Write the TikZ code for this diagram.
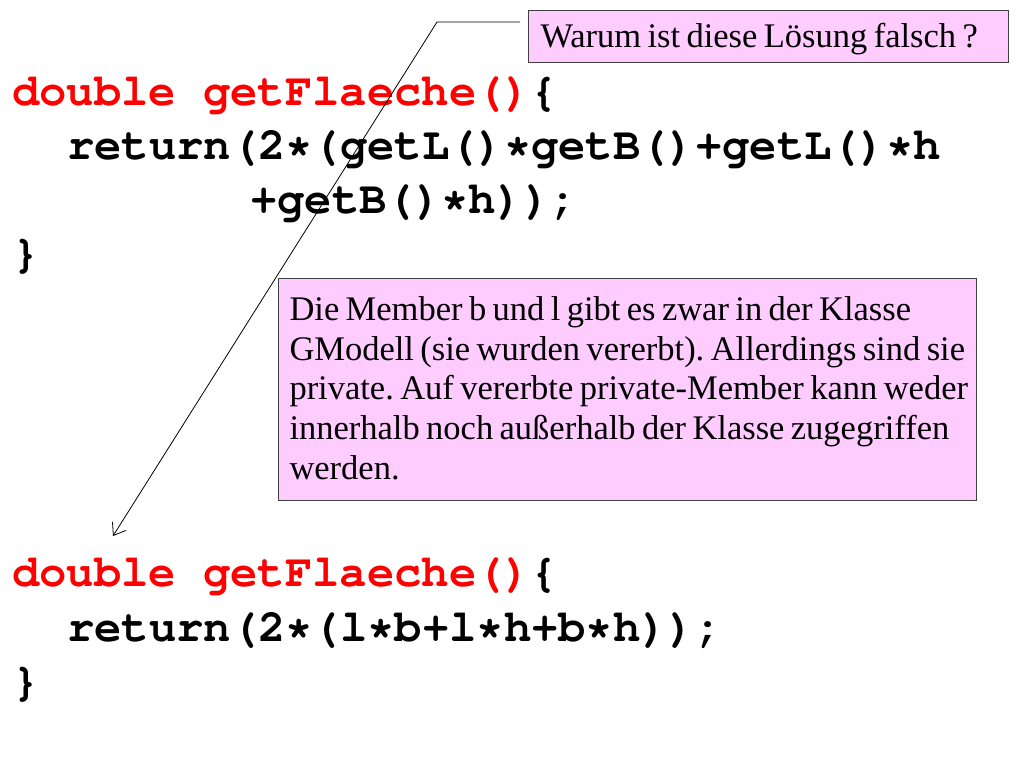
\documentclass[tikz,border=0pt]{standalone}
\usepackage[T1]{fontenc}
\usepackage{fontspec}
\setmainfont{Liberation Serif}
\usetikzlibrary{arrows.meta}
\definecolor{codered}{RGB}{255,0,0}
\definecolor{notefill}{RGB}{255,204,255}
\definecolor{noteline}{RGB}{64,64,64}
\newcommand{\courierbold}{\fontencoding{T1}\fontfamily{pcr}\fontseries{b}\fontshape{n}\fontsize{45.5}{50}\selectfont}
\newcommand{\notesize}[1]{\fontsize{34.5}{#1}\selectfont\frenchspacing}
\newcommand{\tightspaces}{\spaceskip=6.4pt plus 1pt minus 0.5pt\relax\xspaceskip=6.4pt plus 1pt\relax}
\tikzset{
  codeline/.style={anchor=base west, inner sep=0pt, font=\courierbold},
  notebox/.style={draw=noteline, line width=1pt, fill=notefill, anchor=north west, align=left},
  callout/.style={draw=black, line width=0.8pt, -{Straight Barb[length=11pt,width=16pt]}}
}
\begin{document}
\begin{tikzpicture}[x=1pt,y=-1pt]
\useasboundingbox (0,0) rectangle (1024,768);
% first block
\node[codeline] (a1) at (12,105) {\textcolor{codered}{double getFlaeche()}\{};
\node[codeline] (a2) at (67,159) {return(2*(getL()*getB()+getL()*h};
\node[codeline] (a3) at (250,213) {+getB()*h));};
\node[codeline] (a4) at (12,267) {\}};
% second block
\node[codeline] (b1) at (12,586) {\textcolor{codered}{double getFlaeche()}\{};
\node[codeline] (b2) at (67,641) {return(2*(l*b+l*h+b*h));};
\node[codeline] (b3) at (12,695) {\}};
% question box
\node[notebox, minimum width=480pt, text width=456pt, inner xsep=12pt, inner ysep=11pt,
      text height=26pt, text depth=4pt, font=\notesize{36}] (q) at (528,10)
  {\tightspaces Warum ist diese Lösung falsch ?};
% explanation box
\node[notebox, text width=676pt, inner xsep=11pt, inner ysep=18pt,
      font=\notesize{39.7}] (e) at (278,278)
  {\tightspaces\mbox{Die Member b und l gibt es zwar in der Klasse}\\
   \mbox{GModell (sie wurden vererbt). Allerdings sind sie}\\
   \mbox{private. Auf vererbte private-Member kann weder}\\
   \mbox{innerhalb noch außerhalb der Klasse zugegriffen}\\
   werden.\rule[-3pt]{0pt}{3pt}};
% callout connector
\coordinate (start) at ([xshift=-8pt,yshift=-12pt]q.north west);
\coordinate (bend) at (437,22);
\coordinate (tip) at (113,536);
\draw[callout] (start) -- (bend) -- (tip);
\end{tikzpicture}
\end{document}
